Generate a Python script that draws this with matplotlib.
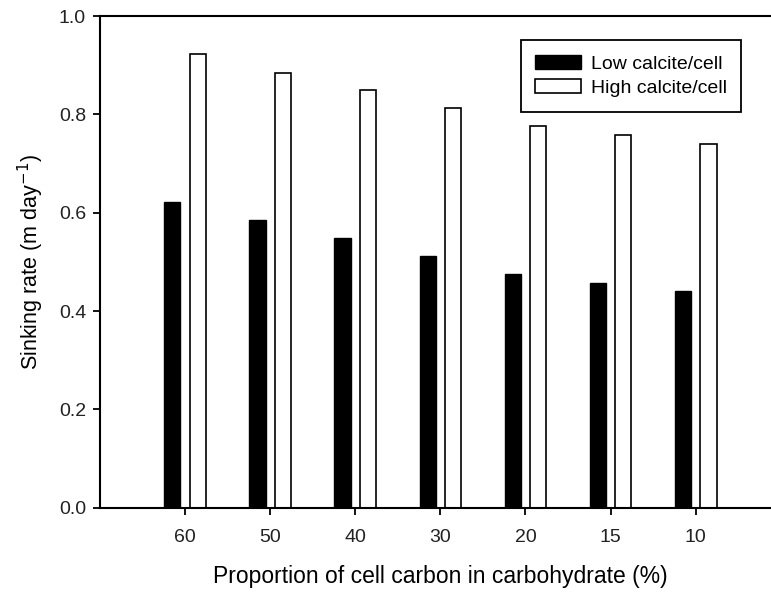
import matplotlib
matplotlib.use("Agg")
import matplotlib.pyplot as plt
import numpy as np

plt.rcParams['font.family'] = ['Liberation Sans', 'DejaVu Sans']

categories = ["60", "50", "40", "30", "20", "15", "10"]
low_calcite = [0.621, 0.585, 0.549, 0.512, 0.476, 0.458, 0.440]
high_calcite = [0.922, 0.885, 0.849, 0.812, 0.776, 0.758, 0.740]

fig = plt.figure(figsize=(7.71, 5.98), dpi=100)
#axes run off the right edge like the original crop
ax = fig.add_axes([0.1297, 0.151, 0.883, 0.8222])

x = np.arange(len(categories))
w = 0.19
off = 0.15
ax.bar(x - off, low_calcite, w, color='black', edgecolor='black', linewidth=1,
       label='Low calcite/cell')
ax.bar(x + off, high_calcite, w, color='white', edgecolor='black', linewidth=1.2,
       label='High calcite/cell')

ax.set_xlim(-1, 7)
ax.set_ylim(0, 1.0)
ax.set_xticks(x)
ax.set_xticklabels(categories)
ax.set_yticks([0.0, 0.2, 0.4, 0.6, 0.8, 1.0])
ax.set_yticklabels(["0.0", "0.2", "0.4", "0.6", "0.8", "1.0"])

for s in ['left', 'bottom', 'top']:
    ax.spines[s].set_linewidth(1.5)
ax.spines['right'].set_visible(False)
ax.tick_params(axis='both', direction='out', length=5, width=1.3, labelsize=14,
               labelcolor='#222222')
ax.tick_params(axis='x', pad=10)
ax.tick_params(axis='y', pad=5)

ax.set_xlabel("Proportion of cell carbon in carbohydrate (%)", fontsize=16.5, labelpad=14)
ax.set_ylabel("Sinking rate (m day$^{-1}$)", fontsize=15.5, labelpad=9)

leg = ax.legend(loc='upper right', bbox_to_anchor=(0.942, 0.951), fontsize=14,
                fancybox=False, framealpha=1, edgecolor='black',
                handlelength=2.35, handleheight=0.75, borderpad=0.75,
                labelspacing=0.33, handletextpad=0.5, borderaxespad=0)
leg.get_frame().set_linewidth(1.3)

fig.savefig("out.png", dpi=100)
